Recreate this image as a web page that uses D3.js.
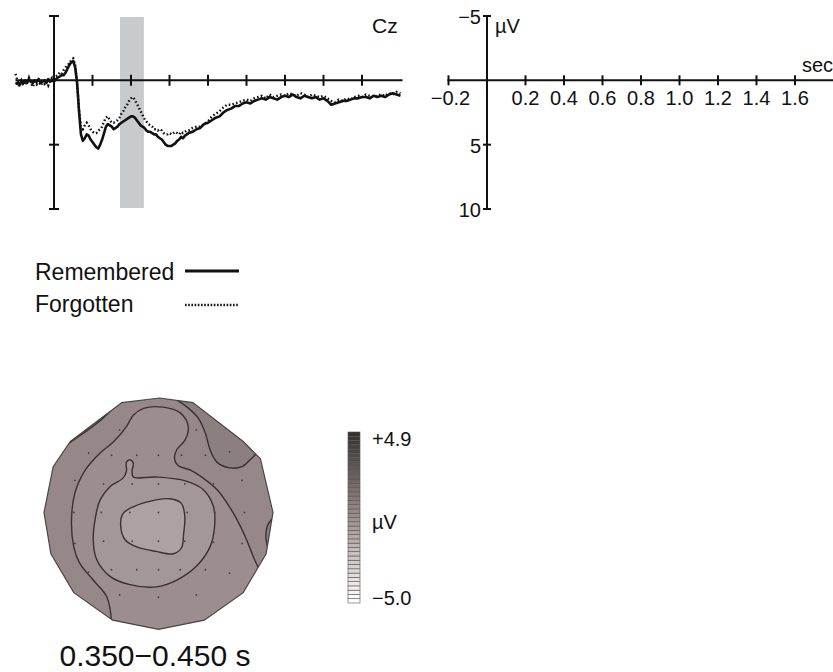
<!DOCTYPE html>
<html><head><meta charset="utf-8">
<script src="https://cdn.jsdelivr.net/npm/d3@7"></script>
<style>
body{margin:0;background:#fff}
svg{display:block}
text{font-family:"Liberation Sans",Arial,Helvetica,sans-serif;fill:#111}
</style>
</head><body>
<svg id="c" width="833" height="672"></svg>
<script>
// ---------------- DATA ----------------
const times = [
-0.20,-0.19,-0.18,-0.17,-0.16,-0.15,-0.14,-0.13,-0.12,-0.11,
-0.10,-0.09,-0.08,-0.07,-0.06,-0.05,-0.04,-0.03,-0.02,-0.01,
0.00,0.01,0.02,0.03,0.04,0.05,0.06,0.07,0.08,0.09,
0.10,0.11,0.12,0.13,0.14,0.15,0.16,0.17,0.18,0.19,
0.20,0.21,0.22,0.23,0.24,0.25,0.26,0.27,0.28,0.29,
0.30,0.31,0.32,0.33,0.34,0.35,0.36,0.37,0.38,0.39,
0.40,0.41,0.42,0.43,0.44,0.45,0.46,0.47,0.48,0.49,
0.50,0.51,0.52,0.53,0.54,0.55,0.56,0.57,0.58,0.59,
0.60,0.61,0.62,0.63,0.64,0.65,0.66,0.67,0.68,0.69,
0.70,
0.72,0.74,0.76,0.78,0.80,0.82,0.84,0.86,0.88,0.90,
0.92,0.94,0.96,0.98,1.00,1.02,1.04,1.06,1.08,1.10,
1.12,1.14,1.16,1.18,1.20,1.22,1.24,1.26,1.28,1.30,
1.32,1.34,1.36,1.38,1.40,1.42,1.44,1.46,1.48,1.50,
1.52,1.54,1.56,1.58,1.60,1.62,1.64,1.66,1.68,1.70,
1.72,1.74,1.76,1.78,1.80];

const remembered = [
0.3,0.2,0.4,0.1,0.2,0.0,0.2,-0.1,0.1,0.2,
0.0,0.1,-0.1,0.2,0.1,0.0,0.2,-0.1,0.1,0.0,
0.1,-0.1,-0.2,-0.3,-0.4,-0.4,-0.6,-0.9,-1.2,-1.4,
-1.5,-1.0,0.2,2.4,4.2,4.7,4.5,4.2,4.3,4.6,
4.8,5.0,5.2,5.3,5.0,4.6,4.1,3.6,3.4,3.5,
3.6,3.8,3.7,3.6,3.4,3.3,3.2,3.1,3.0,2.9,
2.8,2.8,2.9,3.1,3.3,3.5,3.6,3.7,3.9,4.0,
4.0,4.1,4.2,4.2,4.4,4.5,4.6,4.8,5.0,5.1,
5.1,5.1,5.0,4.9,4.7,4.6,4.4,4.5,4.3,4.2,
4.1,
4.0,3.8,3.7,3.4,3.3,3.1,2.9,2.8,2.5,2.3,
2.2,2.0,2.0,1.8,1.7,1.8,1.6,1.5,1.4,1.5,
1.3,1.4,1.5,1.3,1.2,1.3,1.1,1.3,1.4,1.2,
1.3,1.4,1.3,1.5,1.4,1.6,1.9,1.8,1.7,1.6,
1.6,1.5,1.4,1.4,1.3,1.3,1.4,1.2,1.3,1.2,
1.3,1.1,1.0,1.1,1.2];

const forgotten = [
-0.5,0.0,0.3,0.0,0.4,0.1,0.3,-0.2,0.2,0.5,
0.1,0.3,0.0,0.4,0.2,0.3,0.1,0.4,0.0,-0.2,
0.1,-0.3,-0.4,-0.6,-0.5,-0.8,-1.0,-1.2,-1.3,-1.6,
-1.7,-1.2,0.3,2.3,3.6,3.8,3.5,3.3,3.5,3.8,
4.0,4.1,4.1,3.9,3.8,3.6,3.2,2.9,2.8,3.1,
3.3,3.3,3.2,3.1,2.9,2.6,2.4,2.1,1.9,1.6,
1.4,1.3,1.5,1.8,2.1,2.4,2.7,3.0,3.2,3.4,
3.5,3.6,3.8,3.8,3.9,3.8,3.9,4.1,4.2,4.2,
4.1,4.2,4.1,4.0,4.1,4.2,4.0,4.1,4.0,3.9,
3.9,
3.7,3.6,3.6,3.4,3.2,2.8,2.6,2.4,2.1,1.9,
1.9,1.8,1.7,1.6,1.5,1.6,1.4,1.3,1.2,1.4,
1.1,1.3,1.2,1.1,1.2,1.0,1.1,1.2,1.0,1.1,
1.3,1.1,1.2,1.3,1.2,1.4,1.6,1.7,1.5,1.6,
1.4,1.5,1.3,1.2,1.3,1.1,1.2,1.3,1.2,1.1,
1.2,1.0,1.1,0.9,1.0];

const shadedWindow = [0.343, 0.467];           // s
const timeDomain = [-0.2, 1.8];
const voltDomain = [-5, 10];                   // negative up
const innerTicks = [0.2,0.4,0.6,0.8,1.0,1.2,1.4,1.6];
const schematicTicks = [-0.2,0.2,0.4,0.6,0.8,1.0,1.2,1.4,1.6];
const schematicTickLabels = ["\u22120.2","0.2","0.4","0.6","0.8","1.0","1.2","1.4","1.6"];
const voltTicks = [-5,5,10];
const voltTickLabels = ["\u22125","5","10"];
const channelLabel = "Cz";
const unitLabel = "\u00b5V";
const timeLabel = "sec";
const legendNames = ["Remembered","Forgotten"];

// Topographic map (normalised head coordinates, -1..1)
const headOutline = [[0.01,-1.0],[0.30,-0.96],[0.74,-0.62],[0.89,-0.47],[1.0,0.0],[0.94,0.36],[0.74,0.70],[0.40,0.94],[0.0,1.02],[-0.40,0.94],[-0.74,0.70],[-0.94,0.36],[-1.0,0.0],[-0.92,-0.40],[-0.77,-0.62],[-0.32,-0.96]];
const electrodes = [
[-0.34,-0.72],[0.33,-0.72],
[-0.61,-0.52],[-0.41,-0.50],[-0.19,-0.50],[0.0,-0.50],[0.20,-0.50],[0.41,-0.50],[0.62,-0.53],
[-0.73,-0.28],[-0.48,-0.25],[-0.23,-0.25],[0.0,-0.25],[0.23,-0.25],[0.48,-0.25],[0.73,-0.28],
[-0.74,0.0],[-0.50,0.0],[-0.25,0.0],[0.0,0.0],[0.25,0.0],[0.49,0.0],[0.75,0.0],
[-0.73,0.27],[-0.48,0.25],[-0.23,0.25],[0.0,0.25],[0.23,0.25],[0.48,0.26],[0.73,0.27],
[-0.61,0.52],[-0.41,0.50],[-0.19,0.50],[0.0,0.50],[0.19,0.50],[0.41,0.50],[0.62,0.53],
[-0.34,0.72],[0.0,0.74],[0.33,0.72]];
const contourOuter = [[-0.41,0.96],[-0.45,0.74],[-0.57,0.59],[-0.69,0.44],[-0.74,0.30],[-0.76,0.07],[-0.73,-0.17],[-0.64,-0.37],[-0.51,-0.52],[-0.39,-0.62],[-0.28,-0.75],[-0.22,-0.85],[-0.13,-0.91],[0.04,-0.92],[0.19,-0.87],[0.26,-0.75],[0.23,-0.63],[0.16,-0.55],[0.14,-0.47],[0.17,-0.41],[0.28,-0.37],[0.39,-0.30],[0.51,-0.20],[0.62,-0.05],[0.70,0.09],[0.77,0.24],[0.83,0.39],[0.89,0.52]];
const contourMiddle = [[-0.22,-0.31],[-0.02,-0.31],[0.22,-0.28],[0.39,-0.20],[0.48,-0.05],[0.49,0.12],[0.45,0.30],[0.33,0.47],[0.16,0.59],[-0.02,0.65],[-0.25,0.63],[-0.42,0.56],[-0.54,0.41],[-0.57,0.24],[-0.55,0.04],[-0.51,-0.11],[-0.42,-0.23],[-0.31,-0.30],[-0.28,-0.36],[-0.28,-0.44],[-0.25,-0.46],[-0.22,-0.43],[-0.23,-0.37]];
const contourInner = [[-0.31,0.01],[-0.22,-0.05],[-0.02,-0.11],[0.10,-0.12],[0.20,-0.08],[0.23,0.04],[0.22,0.18],[0.20,0.31],[0.13,0.36],[-0.02,0.34],[-0.19,0.30],[-0.29,0.24],[-0.33,0.12]];
const contourTopRight = [[0.10,-1.02],[0.25,-0.92],[0.35,-0.82],[0.41,-0.69],[0.45,-0.55],[0.51,-0.44],[0.62,-0.39],[0.73,-0.40],[0.80,-0.46],[0.86,-0.52]];
const contourTopLeft = [[-0.79,-0.60],[-0.66,-0.69],[-0.50,-0.81],[-0.36,-0.95]];
const contourRight = [[1.02,0.02],[0.95,0.12],[0.94,0.24],[0.97,0.35]];
// field level (µV) of each region
const levelOutside = 0.3, levelOuter = 0.0, levelMiddle = -0.4, levelInner = -0.85, levelCorner = 0.8;

const colorbarLimits = [-5.0, 4.9];
const colorbarLabels = ["+4.9", "\u00b5V", "\u22125.0"];
const caption = "0.350\u22120.450 s";

// ---------------- DRAWING ----------------
const svg = d3.select("#c");
const ink = "#111";

const xL = d3.scaleLinear().domain(timeDomain).range([15.5, 400.5]);
const xR = d3.scaleLinear().domain(timeDomain).range([448.5, 833.5]);
const y = d3.scaleLinear().domain(voltDomain).range([16, 209]);

// shaded analysis window
svg.append("rect")
  .attr("x", xL(shadedWindow[0])).attr("width", xL(shadedWindow[1]) - xL(shadedWindow[0]))
  .attr("y", y(-5) + 1).attr("height", y(10) - y(-5) - 2)
  .attr("fill", "#c9cacc");

// ERP axes (left)
const gL = svg.append("g").attr("stroke", ink).attr("stroke-width", 2).attr("fill", "none");
gL.append("line").attr("x1", xL(timeDomain[0])).attr("x2", xL(timeDomain[1]) + 2).attr("y1", y(0)).attr("y2", y(0));
gL.append("line").attr("x1", xL(0)).attr("x2", xL(0)).attr("y1", y(-5)).attr("y2", y(10));
innerTicks.forEach(t => gL.append("line").attr("x1", xL(t)).attr("x2", xL(t)).attr("y1", y(0) - 5.5).attr("y2", y(0) + 5.5));
voltTicks.forEach(v => gL.append("line").attr("x1", xL(0) - 5).attr("x2", xL(0) + 5).attr("y1", y(v)).attr("y2", y(v)));

// waveforms
const line = d3.line().x((d, i) => xL(times[i])).y(d => y(d));
svg.append("path").datum(forgotten).attr("d", line)
  .attr("fill", "none").attr("stroke", ink).attr("stroke-width", 2.4)
  .attr("stroke-dasharray", "1.6,2.2");
svg.append("path").datum(remembered).attr("d", line)
  .attr("fill", "none").attr("stroke", ink).attr("stroke-width", 2.6).attr("stroke-linejoin", "round");

svg.append("text").attr("x", 372).attr("y", 33).attr("font-size", 21).text(channelLabel);

// schematic axes (right)
const gR = svg.append("g").attr("stroke", ink).attr("stroke-width", 2).attr("fill", "none");
gR.append("line").attr("x1", xR(-0.2) - 1).attr("x2", 833).attr("y1", y(0)).attr("y2", y(0));
gR.append("line").attr("x1", xR(0)).attr("x2", xR(0)).attr("y1", y(-5)).attr("y2", y(10));
schematicTicks.forEach(t => gR.append("line").attr("x1", xR(t)).attr("x2", xR(t)).attr("y1", y(0) - 5).attr("y2", y(0) + 5));
voltTicks.forEach(v => gR.append("line").attr("x1", xR(0) - 4).attr("x2", xR(0) + 4).attr("y1", y(v)).attr("y2", y(v)));

svg.append("g").selectAll("text").data(schematicTicks).join("text")
  .attr("x", (d) => xR(d) + (d < 0 ? 2 : 0)).attr("y", y(0) + 25).attr("text-anchor", "middle")
  .attr("font-size", 20).text((d, i) => schematicTickLabels[i]);
svg.append("g").selectAll("text").data(voltTicks).join("text")
  .attr("x", xR(0) - 6).attr("y", d => y(d) + 8).attr("text-anchor", "end")
  .attr("font-size", 20).text((d, i) => voltTickLabels[i]);
svg.append("text").attr("x", xR(0) + 8).attr("y", 33).attr("font-size", 20).text(unitLabel);
svg.append("text").attr("x", 833).attr("y", 72).attr("text-anchor", "end").attr("font-size", 20).text(timeLabel);

// legend
const legendY = [280, 312];
legendNames.forEach((n, i) => {
  svg.append("text").attr("x", 35).attr("y", legendY[i]).attr("font-size", 23).text(n);
});
svg.append("line").attr("x1", 185).attr("x2", 239).attr("y1", 271).attr("y2", 271)
  .attr("stroke", ink).attr("stroke-width", 3);
svg.append("line").attr("x1", 185).attr("x2", 239).attr("y1", 305).attr("y2", 305)
  .attr("stroke", ink).attr("stroke-width", 2.6).attr("stroke-dasharray", "1.6,1.6");

// ---------------- TOPOGRAPHIC MAP ----------------
const hx = d3.scaleLinear().domain([-1, 1]).range([44, 273]);
const hy = d3.scaleLinear().domain([-1, 1]).range([398, 627]);
const color = d3.scaleLinear().domain([colorbarLimits[0], 0, colorbarLimits[1]])
  .range(["#ffffff", "#9c8e8e", "#353131"]);

const defs = svg.append("defs");
defs.append("clipPath").attr("id", "head").append("path")
  .attr("d", d3.line().x(d => hx(d[0])).y(d => hy(d[1]))(headOutline) + "Z");

const gH = svg.append("g").attr("clip-path", "url(#head)");
const smooth = d3.line().x(d => hx(d[0])).y(d => hy(d[1])).curve(d3.curveCatmullRom.alpha(0.5));
const smoothClosed = d3.line().x(d => hx(d[0])).y(d => hy(d[1])).curve(d3.curveCatmullRomClosed.alpha(0.5));

function regionOutside(pts, dir) {
  const a = pts[pts.length - 1], b = pts[0];
  const a0 = Math.atan2(a[1], a[0]);
  const a1 = Math.atan2(b[1], b[0]);
  let d = a1 - a0;
  if (dir > 0) { while (d <= 0) d += 2 * Math.PI; } else { while (d >= 0) d -= 2 * Math.PI; }
  let s = smooth(pts);
  const n = 30;
  for (let k = 0; k <= n; k++) {
    const ang = a0 + d * k / n;
    s += "L" + hx(2.2 * Math.cos(ang)) + "," + hy(2.2 * Math.sin(ang));
  }
  return s + "Z";
}

gH.append("path").attr("d", d3.line().x(d => hx(d[0])).y(d => hy(d[1]))(headOutline) + "Z")
  .attr("fill", color(levelOutside));
gH.append("path").attr("d", regionOutside(contourOuter, 1)).attr("fill", color(levelOuter));
gH.append("path").attr("d", smoothClosed(contourMiddle)).attr("fill", color(levelMiddle));
gH.append("path").attr("d", smoothClosed(contourInner)).attr("fill", color(levelInner));
gH.append("path").attr("d", regionOutside(contourTopRight, -1)).attr("fill", color(levelCorner));
gH.append("path").attr("d", regionOutside(contourTopLeft, -1)).attr("fill", color(levelCorner));
gH.append("path").attr("d", regionOutside(contourRight, -1)).attr("fill", color(levelCorner));

const cStroke = "#3b3030";
[contourOuter, contourTopRight, contourTopLeft, contourRight].forEach(c =>
  gH.append("path").attr("d", smooth(c)).attr("fill", "none").attr("stroke", cStroke).attr("stroke-width", 1.4));
[contourMiddle, contourInner].forEach(c =>
  gH.append("path").attr("d", smoothClosed(c)).attr("fill", "none").attr("stroke", cStroke).attr("stroke-width", 1.4));

gH.append("g").selectAll("circle").data(electrodes).join("circle")
  .attr("cx", d => hx(d[0])).attr("cy", d => hy(d[1])).attr("r", 0.9).attr("fill", "#4a4040");

svg.append("path").attr("d", d3.line().x(d => hx(d[0])).y(d => hy(d[1]))(headOutline) + "Z")
  .attr("fill", "none").attr("stroke", "#4a4444").attr("stroke-width", 1.2);

// colour bar
const nCells = 40;
const cellVals = d3.range(nCells).map(i => colorbarLimits[0] + (colorbarLimits[1] - colorbarLimits[0]) * i / (nCells - 1));
const cbY = d3.scaleLinear().domain([0, nCells]).range([603, 432]);
svg.append("g").selectAll("rect").data(cellVals).join("rect")
  .attr("x", 348).attr("width", 12)
  .attr("y", (d, i) => cbY(i + 1)).attr("height", cbY(0) - cbY(1))
  .attr("fill", d => color(d)).attr("stroke", "#5a5555").attr("stroke-width", 0.6);
svg.append("text").attr("x", 372).attr("y", 446).attr("font-size", 20).text(colorbarLabels[0]);
svg.append("text").attr("x", 372).attr("y", 529).attr("font-size", 20).text(colorbarLabels[1]);
svg.append("text").attr("x", 372).attr("y", 605).attr("font-size", 20).text(colorbarLabels[2]);

svg.append("text").attr("x", 155).attr("y", 666).attr("text-anchor", "middle").attr("font-size", 30).text(caption);
</script>
</body></html>
